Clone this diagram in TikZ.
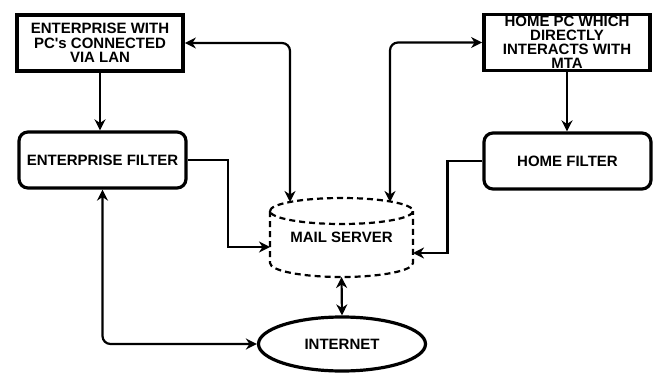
\documentclass[tikz,border=0pt]{standalone}
\usepackage{fontspec}
\setmainfont{Liberation Sans}
\usetikzlibrary{arrows.meta, positioning, calc, shapes.geometric}
\tikzset{every node/.style={font=\bfseries\fontsize{15}{14.5}\selectfont}}

\begin{document}
\begin{tikzpicture}[x=1pt, y=1pt,
    pcbox/.style={draw, line width=3.8pt, minimum width=166, minimum height=56, align=center, inner sep=0pt},
    filtbox/.style={draw, line width=3.2pt, rounded corners=9pt, minimum width=167, minimum height=56, inner sep=0pt},
    link/.style={line width=2.2pt, -{Stealth[length=11pt, width=11pt, inset=3.5pt]}},
    dlink/.style={line width=2.2pt, {Stealth[length=11pt, width=11pt, inset=3.5pt]}-{Stealth[length=11pt, width=11pt, inset=3.5pt]}},
    mailline/.style={line width=2.2pt, dash pattern=on 6pt off 4pt}]
  \useasboundingbox (0,0) rectangle (654,373);
  % boxes
  \node[pcbox] (ent) at (100,330) {ENTERPRISE WITH\\PC\textquotesingle s CONNECTED\\VIA LAN};
  \node[pcbox, font=\bfseries\fontsize{15}{14}\selectfont] (home) at (567,330.5) {HOME PC WHICH\\DIRECTLY\\INTERACTS WITH\\MTA};
  \node[filtbox] (entfilt) at (102.5,213) {ENTERPRISE FILTER};
  \node[filtbox] (homefilt) at (567.5,212) {HOME FILTER};
  \node[minimum width=143, minimum height=80, inner sep=0pt, outer sep=0pt] (mail) at (341.5,136) {MAIL SERVER};
  \node[ellipse, draw, line width=3.2pt, minimum width=167, minimum height=54, inner sep=0pt] (net) at (342,29) {INTERNET};
  % mail server drum
  \draw[mailline] ([yshift=-14pt]mail.north west) arc[start angle=180, end angle=-180, x radius=71.5, y radius=13];
  \draw[mailline] ([yshift=-14pt]mail.north west) -- ([yshift=14pt]mail.south west)
    arc[start angle=180, end angle=360, x radius=71.5, y radius=14] -- ([yshift=-14pt]mail.north east);
  \coordinate (mtl) at ($(mail.north)+(-51.5,-5)$);
  \coordinate (mtr) at ($(mail.north)+(48.5,-5)$);
  % links
  \draw[dlink, rounded corners=8pt] (ent.east) -| (mtl);
  \draw[dlink, rounded corners=8pt] (home.west) -| (mtr);
  \draw[link] (ent.south) -- (ent.south |- entfilt.north);
  \draw[link] (home.south) -- (home.south |- homefilt.north);
  \draw[link] (entfilt.east) -- ++(40,0) |- ([yshift=-10pt]mail.west);
  \draw[link] (homefilt.west) -- ++(-35,0) |- ([yshift=-16pt]mail.east);
  \draw[dlink] (mail.south) -- (net.north);
  \draw[dlink, rounded corners=8pt] (entfilt.south) |- (net.west);
\end{tikzpicture}
\end{document}
